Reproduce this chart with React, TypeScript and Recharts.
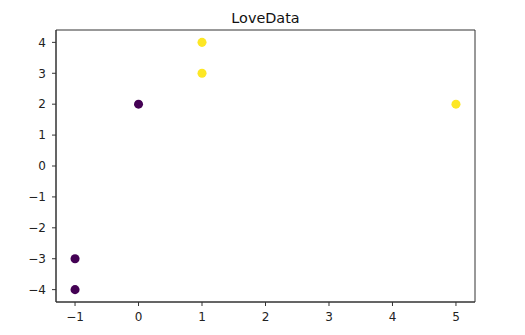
import React from 'react';
import { ScatterChart, Scatter, XAxis, YAxis, ZAxis, ReferenceArea } from 'recharts';

const purplePoints = [
  { x: -1, y: -4 },
  { x: -1, y: -3 },
  { x: 0, y: 2 },
];

const yellowPoints = [
  { x: 1, y: 4 },
  { x: 1, y: 3 },
  { x: 5, y: 2 },
];

const xTicks = [-1, 0, 1, 2, 3, 4, 5];
const yTicks = [-4, -3, -2, -1, 0, 1, 2, 3, 4];

const fmt = (v: number) => String(v).replace('-', '\u2212');

const tickStyle = { fontFamily: 'DejaVu Sans', fontSize: 12, fill: '#222' };

export default function App() {
  return (
    <div style={{ position: 'absolute', left: 0, top: 0, width: 525, height: 335, background: '#fff' }}>
      <div
        style={{
          position: 'absolute',
          left: 56,
          width: 419,
          top: 10,
          textAlign: 'center',
          fontFamily: 'DejaVu Sans',
          fontSize: 14.4,
          lineHeight: 'normal',
          color: '#111',
        }}
      >
        LoveData
      </div>
      <ScatterChart width={525} height={335} margin={{ top: 30, right: 50, bottom: 8, left: 0 }}>
        <XAxis
          type="number"
          dataKey="x"
          domain={[-1.3, 5.3]}
          ticks={xTicks}
          tickFormatter={fmt}
          height={25}
          tickSize={4}
          tickMargin={6}
          stroke="#333"
          tick={tickStyle}
          allowDataOverflow
        />
        <YAxis
          type="number"
          dataKey="y"
          domain={[-4.4, 4.4]}
          ticks={yTicks}
          tickFormatter={fmt}
          width={56}
          tickSize={4}
          tickMargin={6}
          stroke="#333"
          tick={tickStyle}
          allowDataOverflow
        />
        <ZAxis range={[70, 70]} />
        <ReferenceArea x1={-1.3} x2={5.3} y1={-4.4} y2={4.4} fill="none" stroke="#333" strokeWidth={1} />
        <Scatter data={purplePoints} fill="#440154" shape="circle" isAnimationActive={false} />
        <Scatter data={yellowPoints} fill="#fde725" shape="circle" isAnimationActive={false} />
      </ScatterChart>
    </div>
  );
}
